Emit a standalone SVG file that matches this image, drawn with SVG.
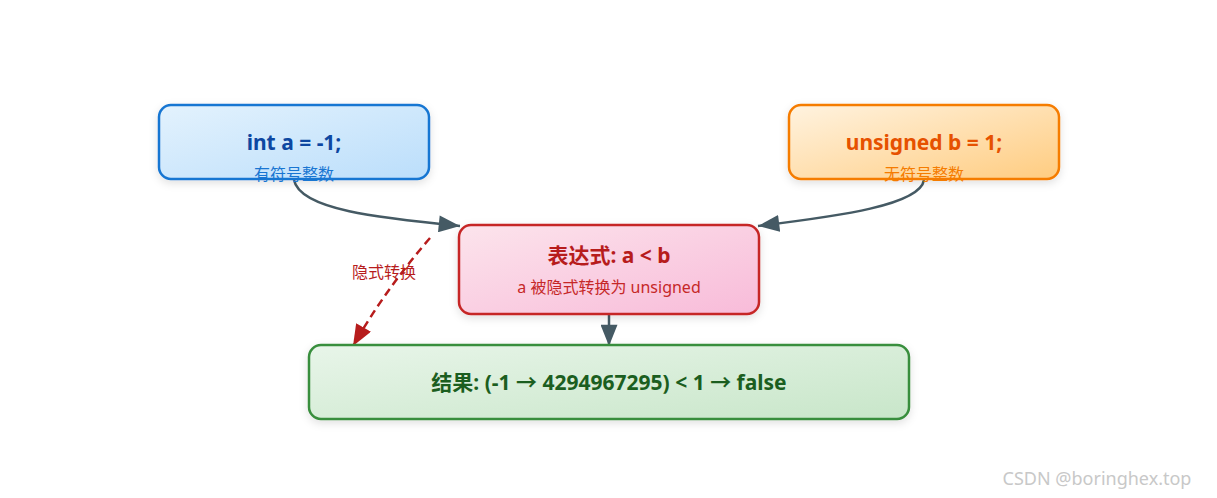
<svg xmlns="http://www.w3.org/2000/svg" width="1217" height="498" viewBox="0 0 1217 498">
<defs>
<linearGradient id="gb" x1="0" y1="0" x2="1" y2="1"><stop offset="0" stop-color="#e3f2fd"/><stop offset="1" stop-color="#bbdefb"/></linearGradient>
<linearGradient id="go" x1="0" y1="0" x2="1" y2="1"><stop offset="0" stop-color="#fff3e0"/><stop offset="1" stop-color="#ffcc80"/></linearGradient>
<linearGradient id="gp" x1="0" y1="0" x2="1" y2="1"><stop offset="0" stop-color="#fce4ec"/><stop offset="1" stop-color="#f8bbd9"/></linearGradient>
<linearGradient id="gg" x1="0" y1="0" x2="1" y2="1"><stop offset="0" stop-color="#e8f5e9"/><stop offset="1" stop-color="#c8e6c9"/></linearGradient>
<filter id="sh" x="-10%" y="-20%" width="120%" height="150%"><feDropShadow dx="0" dy="3" stdDeviation="4" flood-color="#000" flood-opacity="0.12"/></filter>
<marker id="ah" markerWidth="10" markerHeight="8" refX="9" refY="4" orient="auto" markerUnits="userSpaceOnUse"><path d="M0,0 L10,4 L0,8 z" fill="#455a64" transform="scale(2.2) translate(-5.5,-2)"/></marker>
<marker id="a1" viewBox="0 0 10 8" markerWidth="22" markerHeight="17" refX="10" refY="4" orient="auto" markerUnits="userSpaceOnUse"><path d="M0,0 L10,4 L0,8 z" fill="#455a64"/></marker>
<marker id="a2" viewBox="0 0 10 8" markerWidth="22" markerHeight="17" refX="10" refY="4" orient="auto" markerUnits="userSpaceOnUse"><path d="M0,0 L10,4 L0,8 z" fill="#b71c1c"/></marker>
</defs>
<style>
text{font-family:"Segoe UI","Noto Sans","Noto Sans CJK SC",sans-serif;text-anchor:middle}
.t{font-size:21px;font-weight:bold}
.s{font-size:16px}
</style>
<rect width="1217" height="498" fill="#fff"/>
<g id="connectors" fill="none">
<path d="M294,180 C300,210 380,218 460,226" stroke="#455a64" stroke-width="2.5" marker-end="url(#a1)"/>
<path d="M924,180 C920,205 840,216 758,226" stroke="#455a64" stroke-width="2.5" marker-end="url(#a1)"/>
<path d="M609,315 L609,346" stroke="#455a64" stroke-width="2.5" marker-end="url(#a1)"/>
<path d="M430,238 Q385,290 353,346" stroke="#b71c1c" stroke-width="2.5" stroke-dasharray="8,5" marker-end="url(#a2)"/>
<text x="384" y="278" class="s" fill="#b71c1c">隐式转换</text>
</g>
<g id="nodeA"><rect x="159" y="105" width="270" height="74" rx="12" fill="url(#gb)" stroke="#1976d2" stroke-width="2.5" filter="url(#sh)"/>
<text x="294" y="150" class="t" fill="#0d47a1">int a = -1;</text><text x="294" y="180" class="s" fill="#1976d2">有符号整数</text></g>
<g id="nodeB"><rect x="789" y="105" width="270" height="74" rx="12" fill="url(#go)" stroke="#f57c00" stroke-width="2.5" filter="url(#sh)"/>
<text x="924" y="150" class="t" fill="#e65100">unsigned b = 1;</text><text x="924" y="180" class="s" fill="#f57c00">无符号整数</text></g>
<g id="nodeExpr"><rect x="459" y="225" width="300" height="89" rx="12" fill="url(#gp)" stroke="#c62828" stroke-width="2.5" filter="url(#sh)"/>
<text x="609" y="263" class="t" fill="#b71c1c">表达式: a &lt; b</text><text x="609" y="293" class="s" fill="#c62828">a 被隐式转换为 unsigned</text></g>
<g id="nodeResult"><rect x="309" y="345" width="600" height="74" rx="12" fill="url(#gg)" stroke="#388e3c" stroke-width="2.5" filter="url(#sh)"/>
<text x="609" y="390" class="t" fill="#1b5e20">结果: (-1 → 4294967295) &lt; 1 → false</text></g>
<text x="1097" y="485" font-size="18" fill="#c8c8c8">CSDN @boringhex.top</text>
</svg>
